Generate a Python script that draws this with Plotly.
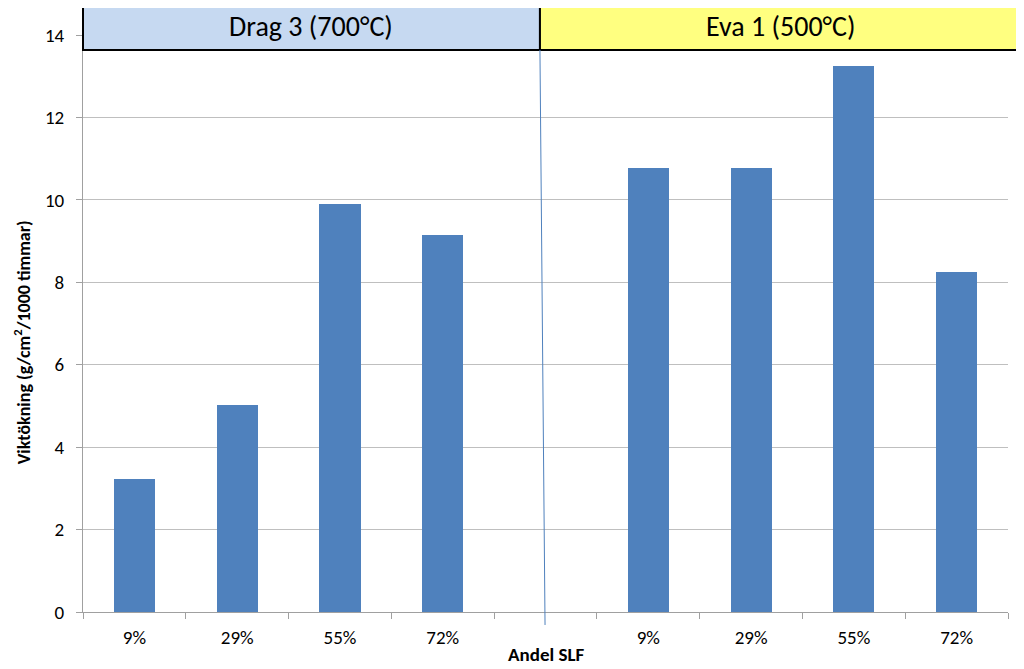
import plotly.graph_objects as go

categories = ["9%", "29%", "55%", "72%", "", "9%", "29%", "55%", "72%"]
values = [3.22, 5.02, 9.9, 9.15, None, 10.78, 10.78, 13.25, 8.25]
group_labels = ["Drag 3 (700°C)", "Eva 1 (500°C)"]
y_ticks = [0, 2, 4, 6, 8, 10, 12, 14]

FONT = "Carlito, Calibri, Lato, sans-serif"
x = list(range(len(categories)))

fig = go.Figure()
fig.add_trace(go.Bar(
    x=x, y=values, width=0.4,
    marker=dict(color="#4F81BD", line=dict(width=0)),
    showlegend=False,
))

grid = "#BFBFBF"
axis = "#A0A0A0"

# page body has an 8px margin, so the figure is sized/offset to compensate
fig.update_layout(
    width=1016, height=661,
    margin=dict(l=75, r=16, t=27, b=57, autoexpand=False),
    paper_bgcolor="white", plot_bgcolor="white",
    font=dict(family=FONT, size=19, color="black"),
    bargap=0,
    xaxis=dict(
        range=[-0.5, len(categories) - 0.5],
        tickmode="array", tickvals=x, ticktext=categories,
        ticks="", showgrid=False, zeroline=False,
        showline=True, linecolor=axis, linewidth=1,
        tickfont=dict(size=19, family=FONT),
        ticklabelstandoff=8,
        minor=dict(tickmode="array",
                   tickvals=[i - 0.5 for i in range(len(categories) + 1)],
                   ticks="outside", ticklen=6, tickcolor=axis, showgrid=False),
    ),
    yaxis=dict(
        range=[0, 14], tickmode="array", tickvals=y_ticks,
        ticks="outside", ticklen=6, tickcolor=axis,
        showgrid=True, gridcolor=grid, gridwidth=1,
        zeroline=False, showline=True, linecolor=axis, linewidth=1,
        tickfont=dict(size=19, family=FONT),
        ticklabelstandoff=8,
    ),
)

# header boxes
split = 0.494
fig.add_shape(type="rect", xref="paper", yref="paper",
              x0=0, x1=split, y0=0.974, y1=1.0555,
              fillcolor="#C6D9F1", line=dict(color="black", width=2), layer="above")
fig.add_shape(type="rect", xref="paper", yref="paper",
              x0=split, x1=1.0162, y0=0.974, y1=1.0555,
              fillcolor="#FFFF80", line=dict(color="black", width=2), layer="above")
fig.add_annotation(xref="paper", yref="paper", x=split / 2, y=1.0148,
                   xanchor="center", yanchor="middle",
                   text=group_labels[0], showarrow=False,
                   font=dict(size=28, family=FONT, color="black"))
fig.add_annotation(xref="paper", yref="paper", x=(split + 1.0162) / 2, y=1.0148,
                   xanchor="center", yanchor="middle",
                   text=group_labels[1], showarrow=False,
                   font=dict(size=28, family=FONT, color="black"))

# separator line
fig.add_shape(type="line", xref="paper", yref="paper",
              x0=split, y0=0.974, x1=0.4995, y1=-0.0225,
              line=dict(color="#4F81BD", width=1))

# axis titles
fig.add_annotation(xref="paper", yref="paper", x=0.5, y=-0.0745,
                   xanchor="center", yanchor="middle",
                   text="<b>Andel SLF</b>", showarrow=False,
                   font=dict(size=19, family=FONT, color="black"))
fig.add_annotation(xref="paper", yref="paper", x=-0.0645, y=0.468,
                   xanchor="center", yanchor="middle",
                   text="<b>Viktökning (g/cm<sup>2</sup>/1000 timmar)</b>", showarrow=False,
                   textangle=-90,
                   font=dict(size=18, family=FONT, color="black"))

fig.write_html("out.html")
